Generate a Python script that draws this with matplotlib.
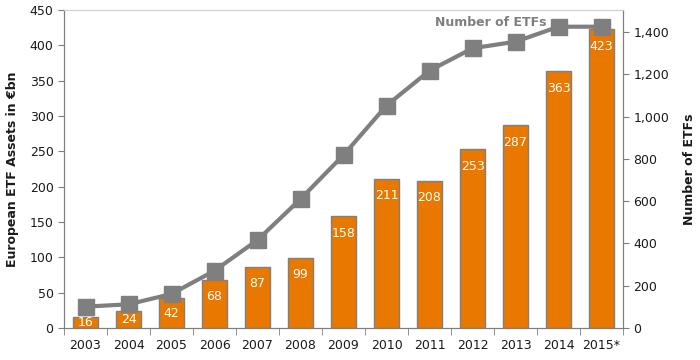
import matplotlib
matplotlib.use("Agg")
import matplotlib.pyplot as plt
from matplotlib.ticker import FuncFormatter, FixedLocator
import numpy as np

years = ["2003", "2004", "2005", "2006", "2007", "2008", "2009", "2010",
         "2011", "2012", "2013", "2014", "2015*"]
assets = [16, 24, 42, 68, 87, 99, 158, 211, 208, 253, 287, 363, 423]
num_etfs = [101, 112, 161, 271, 416, 610, 818, 1052, 1217, 1323, 1354, 1425, 1425]

plt.rcParams['font.family'] = ['DejaVu Sans']

orange = "#E87800"
grey = "#7F7F7F"
txt = "#1a1a1a"

fig = plt.figure(figsize=(7, 3.6), dpi=100)
ax = fig.add_axes([64/700, 32/360, (623-64)/700, (328-10)/360])
x = np.arange(len(years))

ax.bar(x, assets, width=0.6, color=orange, edgecolor=grey, linewidth=1.0, zorder=2)
for xi, v in zip(x, assets):
    ax.text(xi, max(v - 24, v / 2), str(v), ha='center', va='center',
            color='white', fontsize=9, zorder=3)

ax.set_xlim(-0.5, len(years) - 0.5)
ax.set_ylim(0, 450)
ax.set_yticks(np.arange(0, 451, 50))
ax.set_xticks(x)
ax.set_xticklabels(years)
ax.xaxis.set_minor_locator(FixedLocator(np.arange(-0.5, len(years), 1.0)))
ax.tick_params(axis='x', which='major', length=0, pad=8, labelsize=9, labelcolor=txt)
ax.tick_params(axis='x', which='minor', length=5, color=grey)
ax.tick_params(axis='y', length=4, color=grey, labelsize=9, labelcolor=txt)
for s in ['left', 'bottom', 'right']:
    ax.spines[s].set_color(grey)
ax.spines['top'].set_color('#d0d0d0')
ax.set_ylabel("European ETF Assets in €bn", fontsize=9, fontweight='bold', color=txt, labelpad=8)

ax2 = ax.twinx()
ax2.plot(x, num_etfs, color=grey, linewidth=3, marker='s', markersize=11,
         markerfacecolor=grey, markeredgecolor=grey, zorder=4)
ax2.set_ylim(0, 1504)
ax2.set_yticks(np.arange(0, 1401, 200))
ax2.yaxis.set_major_formatter(FuncFormatter(lambda v, p: f"{int(v):,}"))
ax2.tick_params(axis='y', length=4, color=grey, labelsize=9, labelcolor=txt)
for s in ['left', 'bottom', 'right']:
    ax2.spines[s].set_color(grey)
ax2.spines['top'].set_color('#d0d0d0')
ax2.set_ylabel("Number of ETFs", fontsize=9, fontweight='bold', color=txt, labelpad=10)
ax2.text(10.72, 1445, "Number of ETFs", ha='right', va='center', color=grey,
         fontsize=9, fontweight='bold', zorder=5)

fig.savefig("out.png", dpi=100)
